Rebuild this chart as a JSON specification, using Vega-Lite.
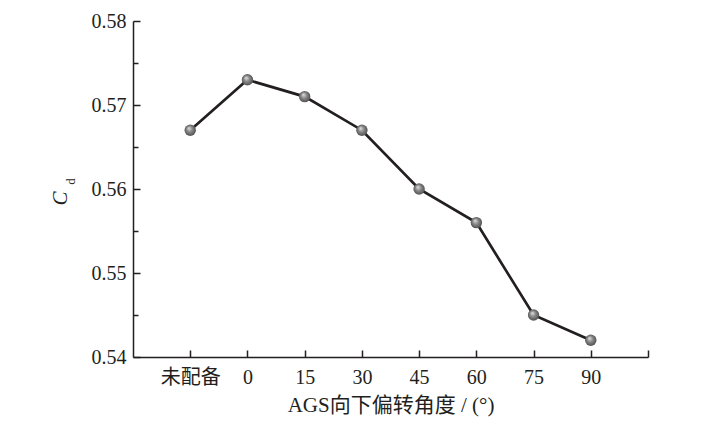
{
  "$schema": "https://vega.github.io/schema/vega-lite/v6.json",
  "width": 515,
  "height": 336,
  "autosize": "none",
  "padding": {"left": 133, "top": 21, "right": 63, "bottom": 78},
  "background": "white",
  "config": {
    "view": {"stroke": null},
    "font": "'Liberation Serif', 'Noto Sans CJK SC', serif",
    "axis": {
      "grid": false,
      "domainColor": "#231f20",
      "domainWidth": 1.5,
      "tickColor": "#231f20",
      "tickWidth": 1.5,
      "labelColor": "#231f20",
      "labelFont": "'Liberation Serif', 'Noto Sans CJK SC', serif",
      "labelFontSize": 20,
      "titleFont": "'Liberation Serif', 'Noto Sans CJK SC', serif",
      "titleColor": "#231f20",
      "titleFontWeight": "normal"
    }
  },
  "data": {
    "values": [
      {"label": "未配备", "pos": 0, "cd": 0.567},
      {"label": "0", "pos": 1, "cd": 0.573},
      {"label": "15", "pos": 2, "cd": 0.571},
      {"label": "30", "pos": 3, "cd": 0.567},
      {"label": "45", "pos": 4, "cd": 0.560},
      {"label": "60", "pos": 5, "cd": 0.556},
      {"label": "75", "pos": 6, "cd": 0.545},
      {"label": "90", "pos": 7, "cd": 0.542}
    ]
  },
  "encoding": {
    "x": {
      "field": "pos",
      "type": "quantitative",
      "scale": {"domain": [-1, 8], "nice": false, "zero": false},
      "axis": {
        "values": [0, 1, 2, 3, 4, 5, 6, 7, 8],
        "labelExpr": "['未配备','0','15','30','45','60','75','90',''][datum.value]",
        "tickSize": -7,
        "labelPadding": 17,
        "labelFlush": false,
        "labelOverlap": false,
        "title": "AGS向下偏转角度 / (°)",
        "titleFontSize": 21,
        "titlePadding": 7
      }
    }
  },
  "layer": [
    {
      "mark": {"type": "line", "color": "#231f20", "strokeWidth": 2.7},
      "encoding": {
        "y": {
          "field": "cd",
          "type": "quantitative",
          "scale": {"domain": [0.54, 0.58], "nice": false, "zero": false},
          "axis": {
            "values": [0.54, 0.55, 0.56, 0.57, 0.58],
            "format": ".2f",
            "tickSize": -7,
            "labelPadding": 14,
            "labelFlush": false,
            "title": "C",
            "titleFontSize": 21,
            "titleFontStyle": "italic",
            "titleX": -73,
            "titleY": 177,
            "titleAngle": -90,
            "titleAlign": "center",
            "titleBaseline": "middle"
          }
        }
      }
    },
    {
      "mark": {
        "type": "point",
        "filled": true,
        "size": 130,
        "opacity": 1,
        "strokeWidth": 0,
        "fill": {
          "gradient": "radial",
          "x1": 0.38, "y1": 0.32, "r1": 0,
          "x2": 0.5, "y2": 0.5, "r2": 0.55,
          "stops": [
            {"offset": 0, "color": "#e6e6e6"},
            {"offset": 0.45, "color": "#8a8a8a"},
            {"offset": 1, "color": "#4a4a4a"}
          ]
        }
      },
      "encoding": {
        "y": {
          "field": "cd",
          "type": "quantitative",
          "scale": {"domain": [0.54, 0.58], "nice": false, "zero": false},
          "axis": {
            "orient": "left",
            "values": [0.545, 0.555, 0.565, 0.575],
            "labels": false,
            "domain": false,
            "tickSize": -5,
            "title": "d",
            "titleFontSize": 13,
            "titleFontStyle": "normal",
            "titleX": -63,
            "titleY": 160,
            "titleAngle": -90,
            "titleAlign": "center",
            "titleBaseline": "middle"
          }
        }
      }
    }
  ],
  "resolve": {"scale": {"y": "shared"}, "axis": {"y": "independent"}}
}
